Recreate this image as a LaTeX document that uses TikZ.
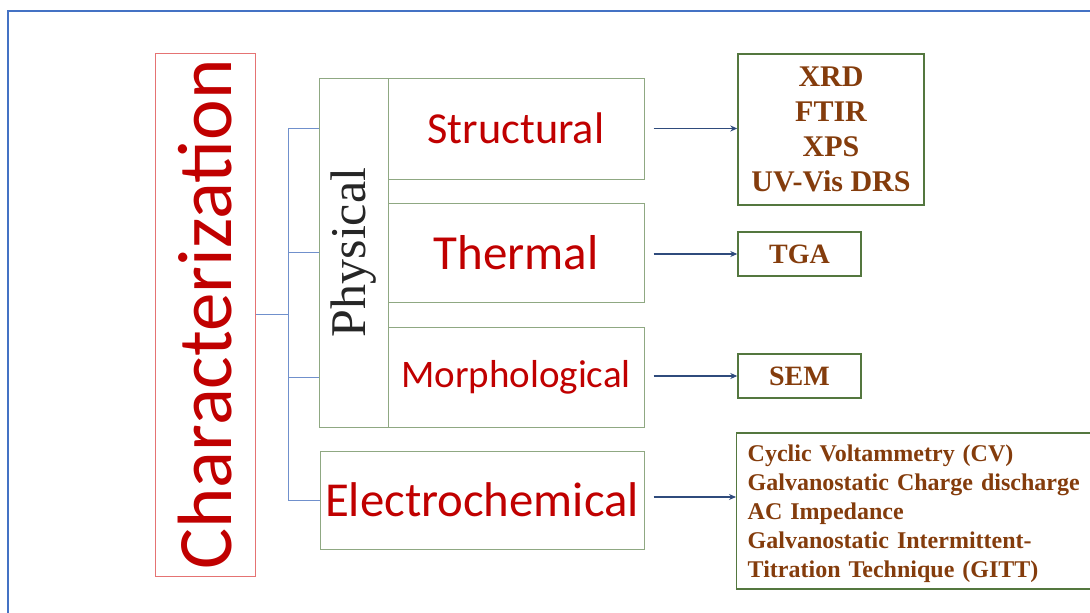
\documentclass[tikz,border=0pt]{standalone}
\usepackage{fontspec}
\setmainfont{Liberation Serif}
\newfontfamily\calfont{Carlito}
\usetikzlibrary{arrows.meta}
\definecolor{frameblue}{HTML}{4472C4}
\definecolor{lred}{HTML}{E57373}
\definecolor{tred}{HTML}{C00000}
\definecolor{lgreen}{HTML}{8FA882}
\definecolor{dgreen}{HTML}{54773F}
\definecolor{cblue}{HTML}{7090CC}
\definecolor{navy}{HTML}{2F4B7C}
\definecolor{tbrown}{HTML}{843C0C}
\tikzset{
  catbox/.style={draw=lred, line width=1pt, inner sep=0pt, text=tred},
  gbox/.style={draw=lgreen, line width=1pt, inner sep=0pt, text=tred},
  rbox/.style={draw=dgreen, line width=1.4pt, inner sep=0pt, text=tbrown},
  bl/.style={draw=cblue, line width=1pt},
  arr/.style={draw=navy, line width=1.3pt, -{Stealth[length=7pt,width=6pt]}}
}
\begin{document}
\begin{tikzpicture}[x=1pt,y=-1pt]
\useasboundingbox (0,0) rectangle (1090,613);
\clip (0,0) rectangle (1090,613);
\draw[frameblue, line width=1.8pt] (8,650) -- (8,11) -- (1100,11);

\node[catbox, minimum width=523pt, minimum height=100pt, rotate=90,
  font={\calfont\fontsize{77}{77}\selectfont}] (char) at (205,314.5) {Characterization};

\node[gbox, text=black!85, minimum width=349pt, minimum height=69pt, rotate=90,
  font={\fontsize{50}{50}\selectfont}] (phys) at (353.5,252.5) {Physical};

\node[gbox, minimum width=256pt, minimum height=101pt,
  font={\calfont\fontsize{44.3}{44}\selectfont}] (struct) at (516,128.5) {Structural};
\node[gbox, minimum width=256pt, minimum height=99pt,
  font={\calfont\fontsize{49}{49}\selectfont}] (therm) at (516,252.5) {Thermal};
\node[gbox, minimum width=256pt, minimum height=100pt,
  font={\calfont\fontsize{39}{39}\selectfont}] (morph) at (516,377) {Morphological};
\node[gbox, minimum width=324pt, minimum height=98pt,
  font={\calfont\fontsize{48.8}{49}\selectfont}] (elec) at (482,500) {Electrochemical};

\node[rbox, minimum width=186pt, minimum height=151pt, align=center,
  font={\bfseries\fontsize{30}{35}\selectfont}] (xrd) at (831,129.5)
  {XRD\\FTIR\\XPS\\UV-Vis DRS};
\node[rbox, minimum width=123pt, minimum height=44pt,
  font={\bfseries\fontsize{28}{35}\selectfont}] (tga) at (799.5,254) {TGA};
\node[rbox, minimum width=123pt, minimum height=44pt,
  font={\bfseries\fontsize{28}{35}\selectfont}] (sem) at (799.5,376) {SEM};
\node[rbox, minimum width=370pt, minimum height=156pt, anchor=west, align=left,
  text width=359pt, inner xsep=11pt, inner ysep=0pt,
  font={\bfseries\fontsize{24}{29}\selectfont}] (list) at (736,511)
  {\rule{0pt}{23pt}Cyclic Voltammetry (CV)\\Galvanostatic Charge discharge\\AC Impedance\\Galvanostatic Intermittent-\\Titration Technique (GITT)};

% blue tree connectors
\coordinate (j) at (288,314.5);
\draw[bl] (char.south) -- (j);
\draw[bl] (j |- struct.west) -- (j |- elec.west);
\draw[bl] (j |- struct.west) -- (phys.north |- struct.west);
\draw[bl] (j |- therm.west) -- (phys.north |- therm.west);
\draw[bl] (j |- morph.west) -- (phys.north |- morph.west);
\draw[bl] (j |- elec.west) -- (elec.west);

% arrows
\draw[arr] ([xshift=9pt]struct.east) -- (xrd.west |- struct.east);
\draw[arr] ([xshift=9pt]therm.east |- tga.west) -- (tga.west);
\draw[arr] ([xshift=9pt]morph.east |- sem.west) -- (sem.west);
\draw[arr] ([xshift=9pt]elec.east |- 0,497) -- (list.west |- 0,497);
\end{tikzpicture}
\end{document}
